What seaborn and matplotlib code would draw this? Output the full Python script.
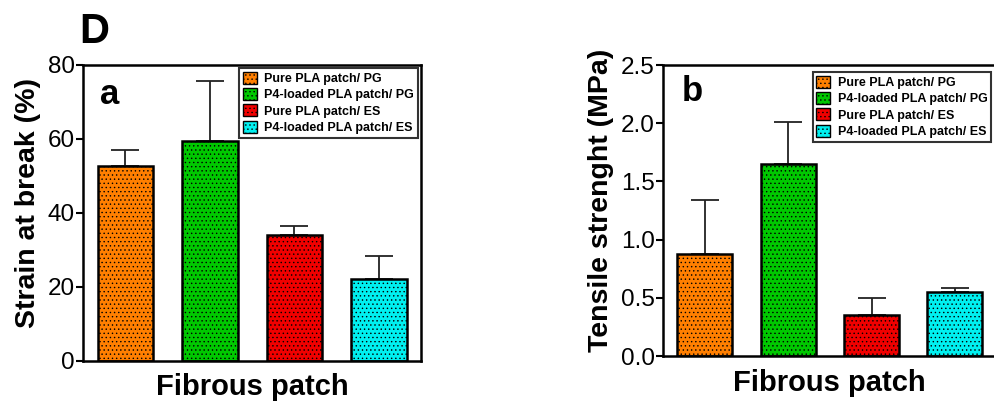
import numpy as np
import pandas as pd
import matplotlib
matplotlib.use('Agg')
import matplotlib.pyplot as plt
from matplotlib.patches import Patch
import seaborn as sns

sns.set_theme(style='white')
plt.rcParams['font.family'] = ['Liberation Sans', 'DejaVu Sans']
plt.rcParams['text.color'] = 'black'
plt.rcParams['axes.labelcolor'] = 'black'
plt.rcParams['ytick.color'] = 'black'
plt.rcParams['hatch.linewidth'] = 0.5

# --- data ---
groups = ['Pure PLA patch/ PG', 'P4-loaded PLA patch/ PG',
          'Pure PLA patch/ ES', 'P4-loaded PLA patch/ ES']
colors = ['#FF7F00', '#00C800', '#F00000', '#00F0F0']

strain_mean = [52.8, 59.5, 34.1, 22.2]
strain_err = [4.3, 16.1, 2.5, 6.2]

tensile_mean = [0.88, 1.65, 0.35, 0.553]
tensile_err = [0.46, 0.36, 0.15, 0.034]

fig = plt.figure(figsize=(9.95, 4.01), dpi=100)
ax1 = fig.add_axes([0.0834, 0.0998, 0.3397, 0.7382])
ax2 = fig.add_axes([0.6663, 0.1122, 0.3337, 0.7257])


def draw_panel(ax, means, errs, ylim, yticks, ylabel, letter, letter_xy, leg_anchor,
               right_spine=True):
    df = pd.DataFrame({'group': groups, 'value': means})
    sns.barplot(data=df, x='group', y='value', hue='group', palette=colors,
                order=groups, hue_order=groups, errorbar=None, width=0.66,
                saturation=1, edgecolor='black', linewidth=1.8, legend=False, ax=ax)
    for bar in ax.patches:
        bar.set_hatch('....')
    ax.errorbar(range(len(groups)), means,
                yerr=[np.zeros(len(errs)), errs], fmt='none',
                ecolor='#222222', elinewidth=1.3, capsize=10, capthick=1.3,
                zorder=0)
    ax.set_ylim(*ylim)
    ax.set_yticks(yticks)
    ax.set_xlim(-0.503, 3.497 if right_spine else 3.48)
    ax.set_xticks([])
    ax.set_xlabel('Fibrous patch', fontsize=21, fontweight='bold', labelpad=9)
    ax.set_ylabel(ylabel, fontsize=20.5, fontweight='bold', labelpad=5)
    ax.yaxis.label.set_y(0.535)
    ax.tick_params(axis='y', which='major', direction='out', length=5, width=1.5,
                   pad=1, labelsize=17.5, left=True, color='black')
    for side in ['left', 'bottom', 'top', 'right']:
        ax.spines[side].set_color('black')
        ax.spines[side].set_linewidth(1.8)
    ax.spines['right'].set_visible(right_spine)
    ax.text(letter_xy[0], letter_xy[1], letter, transform=ax.transAxes,
            fontsize=25, fontweight='bold', va='top', ha='left')
    handles = [Patch(facecolor=c, edgecolor='black', hatch='....', linewidth=1.0,
                     label=g) for c, g in zip(colors, groups)]
    leg = ax.legend(handles=handles, loc='upper right', bbox_to_anchor=leg_anchor,
                    frameon=True, fancybox=False, edgecolor='black',
                    prop={'weight': 'bold', 'size': 9.0},
                    handlelength=1.1, handleheight=1.1, handletextpad=0.6,
                    labelspacing=0.25, borderpad=0.3, borderaxespad=0)
    leg.get_frame().set_linewidth(1.5)


draw_panel(ax1, strain_mean, strain_err, (0, 80), [0, 20, 40, 60, 80],
           'Strain at break (%)', 'a', (0.05, 0.955), (0.991, 0.99))
draw_panel(ax2, tensile_mean, tensile_err, (0, 2.5), [0.0, 0.5, 1.0, 1.5, 2.0, 2.5],
           'Tensile strenght (MPa)', 'b', (0.057, 0.965), (0.988, 0.976),
           right_spine=False)
ax2.yaxis.set_major_formatter(matplotlib.ticker.FormatStrFormatter('%.1f'))

fig.text(0.08, 0.893, 'D', fontsize=30, fontweight='bold', va='baseline')

fig.savefig('out.png', dpi=100)
